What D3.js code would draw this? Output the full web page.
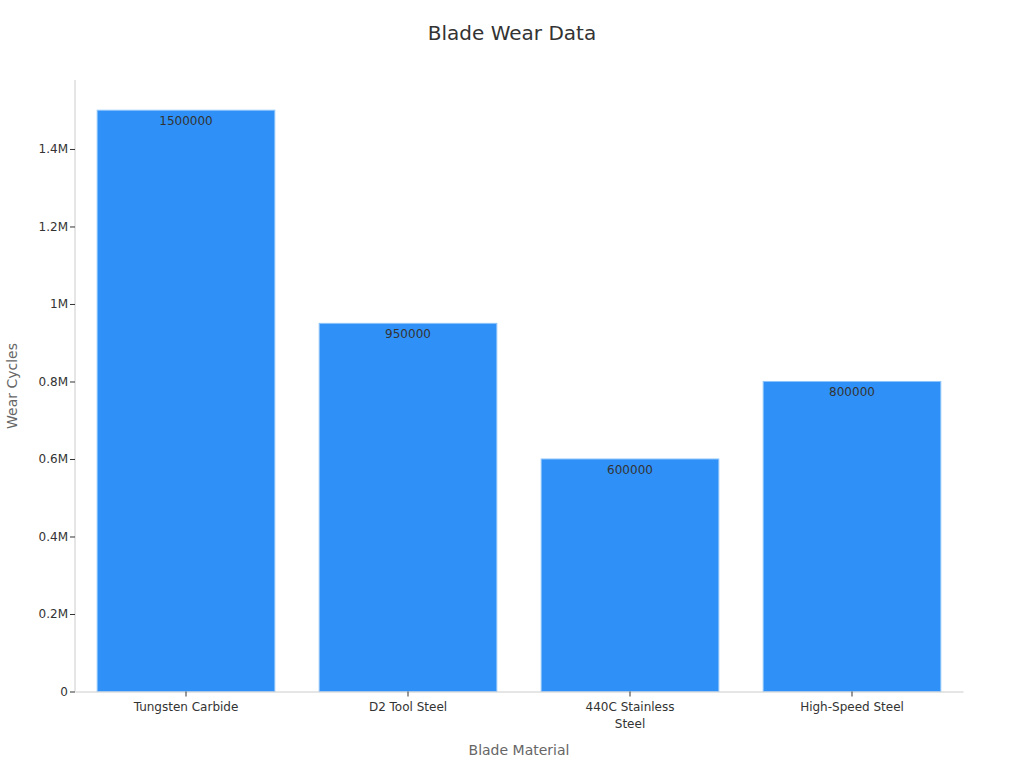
<!DOCTYPE html>
<html><head><meta charset="utf-8">
<script src="https://cdn.jsdelivr.net/npm/d3@7"></script>
<style>body{margin:0;background:#fff;font-family:"DejaVu Sans",sans-serif;}</style>
</head><body><svg id="c" width="1024" height="768"></svg>
<script>
const categories = ["Tungsten Carbide", "D2 Tool Steel", "440C Stainless Steel", "High-Speed Steel"];
const wearCycles = [1500000, 950000, 600000, 800000];
const yTicks = [0, 200000, 400000, 600000, 800000, 1000000, 1200000, 1400000];
const yTickLabels = ["0", "0.2M", "0.4M", "0.6M", "0.8M", "1M", "1.2M", "1.4M"];

const svg = d3.select("#c");
const m = {left: 75, right: 963, top: 80, bottom: 691.5};
const x = d3.scaleBand().domain(categories).range([m.left, m.right]).paddingInner(0.2).paddingOuter(0.1);
const y = d3.scaleLinear().domain([0, 1578000]).range([m.bottom, m.top]);

svg.append("text").attr("x", 512).attr("y", 40).attr("text-anchor", "middle")
  .attr("font-size", 20).attr("fill", "#333").text("Blade Wear Data");

// bars
svg.append("g").selectAll("rect").data(categories).join("rect")
  .attr("x", d => x(d)).attr("width", x.bandwidth())
  .attr("y", (d, i) => y(wearCycles[i])).attr("height", (d, i) => y(0) - y(wearCycles[i]))
  .attr("fill", "#2f91f7").attr("stroke", "#8cc4fb").attr("stroke-width", 1);

svg.append("g").selectAll("text").data(categories).join("text")
  .attr("x", d => x(d) + x.bandwidth() / 2).attr("y", (d, i) => y(wearCycles[i]) + 15)
  .attr("text-anchor", "middle").attr("font-size", 12).attr("fill", "#333")
  .text((d, i) => wearCycles[i]);

// y axis
const ya = svg.append("g").attr("transform", `translate(${m.left},0)`)
  .call(d3.axisLeft(y).tickValues(yTicks).tickFormat((d, i) => yTickLabels[i]).tickSize(5).tickPadding(2).tickSizeOuter(0));
ya.select(".domain").attr("stroke", "#ccc");
ya.selectAll(".tick line").attr("stroke", "#333");
ya.selectAll(".tick text").attr("font-size", 12).attr("fill", "#333").attr("font-family", "DejaVu Sans");
ya.select(".domain").attr("d", `M0,${m.top}V${m.bottom}`);

// x axis
const xa = svg.append("g").attr("transform", `translate(0,${m.bottom})`)
  .call(d3.axisBottom(x).tickSize(5).tickPadding(6).tickSizeOuter(0));
xa.select(".domain").attr("stroke", "#ccc");
xa.selectAll(".tick line").attr("stroke", "#333");
xa.selectAll(".tick text").attr("font-size", 12).attr("fill", "#333").attr("font-family", "DejaVu Sans")
  .each(function(d) {
    const t = d3.select(this);
    if (d === "440C Stainless Steel") {
      t.text(null);
      t.append("tspan").attr("x", 0).attr("dy", "0.71em").text("440C Stainless");
      t.append("tspan").attr("x", 0).attr("dy", "1.4em").text("Steel");
      t.attr("dy", null);
    }
  });

svg.append("text").attr("x", 519).attr("y", 755).attr("text-anchor", "middle")
  .attr("font-size", 14).attr("fill", "#666").text("Blade Material");
svg.append("text").attr("transform", "translate(17,386) rotate(-90)").attr("text-anchor", "middle")
  .attr("font-size", 14).attr("fill", "#666").text("Wear Cycles");
</script></body></html>
